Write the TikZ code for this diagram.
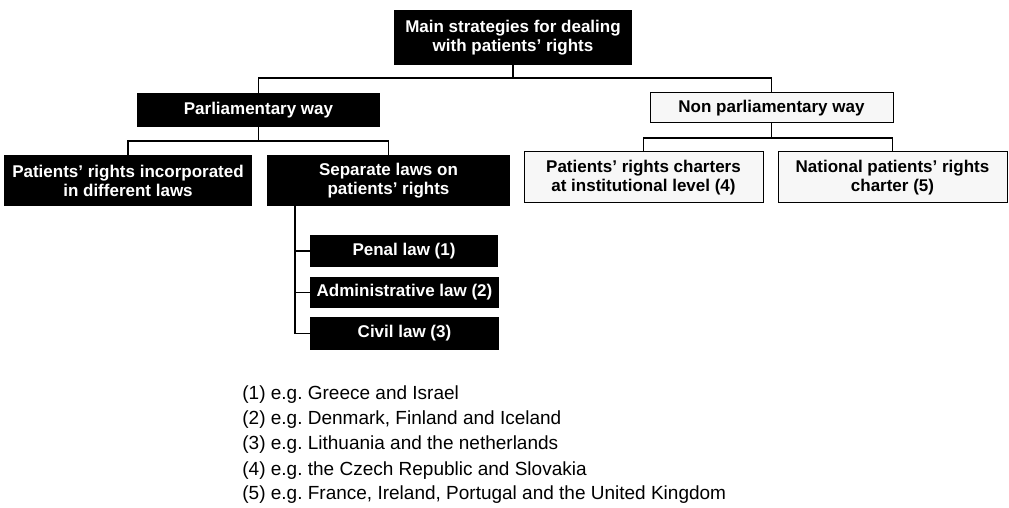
\documentclass[tikz,border=0pt]{standalone}
\usepackage{fontspec}
\setmainfont{Liberation Sans}
\frenchspacing
\usetikzlibrary{positioning}
\tikzset{
darkbox/.style={
  rectangle,
  fill=black,
  text=white,
  font=\fontsize{8.5}{9.5}\selectfont\bfseries,
  align=center,
  inner sep=0pt
  },
lightbox/.style={
  rectangle,
  draw=black,
  line width=0.5pt,
  fill=gray!6,
  text=black,
  font=\fontsize{8.5}{9.5}\selectfont\bfseries,
  align=center,
  inner sep=0pt
  },
boxsize/.style 2 args={
  minimum width=#1*0.5pt,
  minimum height=#2*0.5pt
  },
link/.style={line width=0.7pt},
note/.style={
  anchor=base west,
  inner sep=0pt,
  font=\fontsize{9.5}{12.5}\selectfont
  }
}

\begin{document}
\begin{tikzpicture}[x=0.5pt,y=-0.5pt]
\useasboundingbox (0,0) rectangle (1009,508);

\node[darkbox,boxsize={238}{55}] (main) at (513,37.5)
  {Main strategies for dealing\\with patients' rights};
\node[darkbox,boxsize={243}{34}] (parl) at (258.5,110) {Parliamentary way};
\node[lightbox,boxsize={243}{30}] (nonparl) at (771.5,108) {Non parliamentary way};

\node[darkbox,boxsize={248}{51}] (incorp) at (128,180.5)
  {Patients' rights incorporated\\in different laws};
\node[darkbox,boxsize={243}{51}] (separate) at (388.5,180.5)
  {Separate laws on\\patients' rights};
\node[lightbox,boxsize={239}{51}] (charters) at (643.5,177.5)
  {Patients' rights charters\\at institutional level (4)};
\node[lightbox,boxsize={229}{51}] (national) at (892.5,177.5)
  {National patients' rights\\charter (5)};

\node[darkbox,boxsize={188}{32}] (penal) at (404,251) {Penal law (1)};
\node[darkbox,boxsize={189}{31}] (admin) at (404.5,292.5) {Administrative law (2)};
\node[darkbox,boxsize={189}{33}] (civil) at (404.5,333.5) {Civil law (3)};

\coordinate (bar1) at (0,78);
\coordinate (bar2) at (0,141);
\coordinate (bar3) at (0,138);
\coordinate (spine) at (295,0);

\begin{scope}[link]
\draw (main.south) -- (main.south |- bar1);
\draw (parl.north) -- (parl.north |- bar1) -- (nonparl.north |- bar1) -- (nonparl.north);
\draw (parl.south) -- (parl.south |- bar2);
\draw (incorp.north) -- (incorp.north |- bar2) -- (separate.north |- bar2) -- (separate.north);
\draw (nonparl.south) -- (nonparl.south |- bar3);
\draw (charters.north) -- (charters.north |- bar3) -- (national.north |- bar3) -- (national.north);
\draw (spine |- separate.south) -- (spine |- civil.west) -- (civil.west);
\draw (spine |- penal.west) -- (penal.west);
\draw (spine |- admin.west) -- (admin.west);
\end{scope}

\foreach \i/\t in {1/{e.g. Greece and Israel},
                   2/{e.g. Denmark, Finland and Iceland},
                   3/{e.g. Lithuania and the netherlands},
                   4/{e.g. the Czech Republic and Slovakia},
                   5/{e.g. France, Ireland, Portugal and the United Kingdom}}
  \node[note] (note\i) at (242,375+25*\i) {(\i) \t};
\end{tikzpicture}
\end{document}
